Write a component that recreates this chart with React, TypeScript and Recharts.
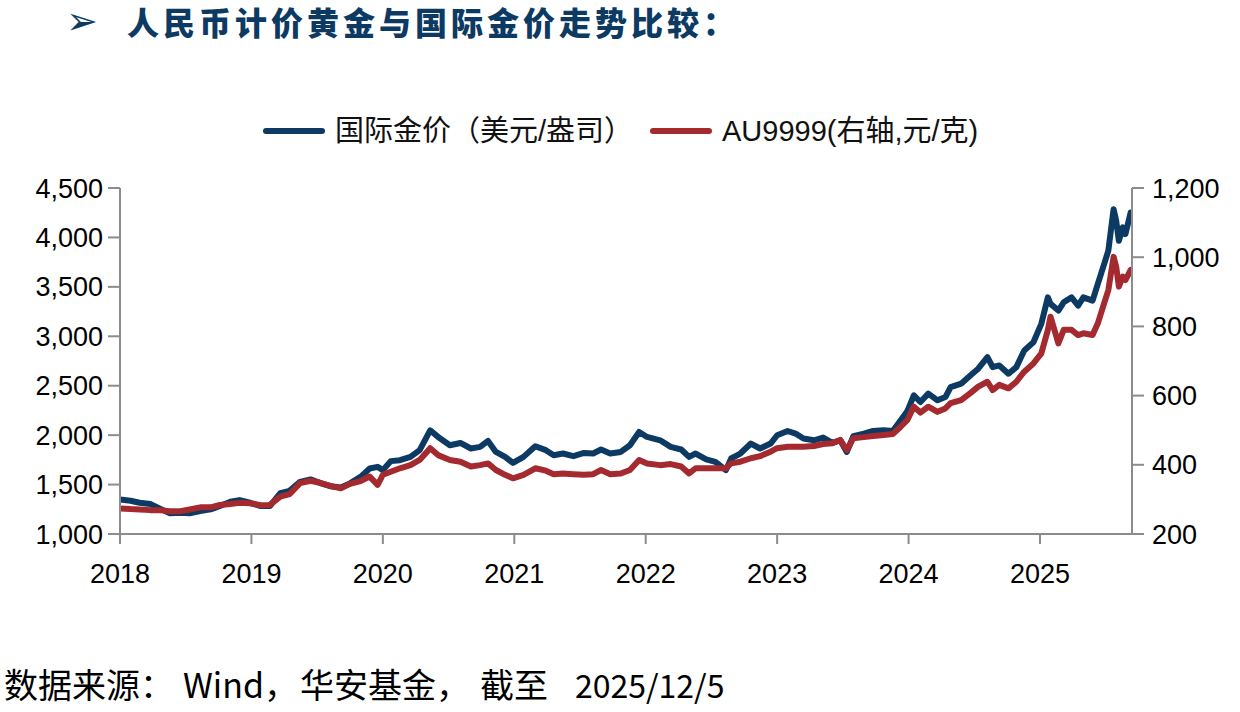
import React from 'react';
import { LineChart, Line, XAxis, YAxis, Legend } from 'recharts';

// Trading-date positions (fractional years)
const dates = [
  2018.0, 2018.08, 2018.15, 2018.23, 2018.3, 2018.38, 2018.46, 2018.53, 2018.61, 2018.69,
  2018.76, 2018.84, 2018.91, 2018.99, 2019.07, 2019.14, 2019.22, 2019.29, 2019.37, 2019.45,
  2019.52, 2019.6, 2019.68, 2019.75, 2019.83, 2019.9, 2019.96, 2020.0, 2020.06, 2020.13,
  2020.21, 2020.28, 2020.36, 2020.42, 2020.51, 2020.59, 2020.67, 2020.74, 2020.8, 2020.86,
  2020.93, 2020.99, 2021.07, 2021.16, 2021.24, 2021.3, 2021.37, 2021.45, 2021.53, 2021.6,
  2021.66, 2021.73, 2021.81, 2021.88, 2021.95, 2022.01, 2022.11, 2022.19, 2022.27, 2022.33,
  2022.38, 2022.46, 2022.53, 2022.61, 2022.65, 2022.72, 2022.8, 2022.87, 2022.95, 2023.0,
  2023.08, 2023.14, 2023.2, 2023.28, 2023.35, 2023.42, 2023.48, 2023.53, 2023.58, 2023.66,
  2023.73, 2023.81, 2023.88, 2023.94, 2023.99, 2024.04, 2024.09, 2024.15, 2024.22, 2024.28,
  2024.32, 2024.4, 2024.47, 2024.53, 2024.6, 2024.64, 2024.69, 2024.76, 2024.82, 2024.88,
  2024.95, 2025.01, 2025.06, 2025.08, 2025.14, 2025.18, 2025.24, 2025.29, 2025.33, 2025.4,
  2025.44, 2025.48, 2025.52, 2025.56, 2025.58, 2025.6, 2025.63, 2025.65, 2025.69,
];

// 国际金价 (USD/oz)
const intlGold = [
  1350, 1336, 1316, 1303, 1259, 1209, 1215, 1209, 1232, 1249,
  1283, 1326, 1343, 1316, 1283, 1283, 1414, 1437, 1528, 1552,
  1518, 1484, 1471, 1512, 1578, 1663, 1679, 1646, 1737, 1747,
  1780, 1848, 2049, 1982, 1898, 1921, 1865, 1881, 1941, 1830,
  1780, 1719, 1780, 1888, 1848, 1797, 1814, 1787, 1820, 1814,
  1855, 1814, 1830, 1898, 2032, 1982, 1948, 1881, 1855, 1780,
  1814, 1754, 1730, 1646, 1764, 1814, 1915, 1865, 1915, 1999,
  2042, 2016, 1966, 1948, 1976, 1921, 1948, 1830, 1989, 2016,
  2042, 2049, 2042, 2150, 2241, 2403, 2335, 2420, 2352, 2385,
  2486, 2521, 2604, 2672, 2789, 2688, 2705, 2621, 2688, 2857,
  2940, 3126, 3394, 3328, 3260, 3344, 3394, 3311, 3394, 3361,
  3530, 3697, 3866, 4286, 4168, 3966, 4101, 4034, 4252,
];

// AU9999 (CNY/g, right axis)
const au9999 = [
  274, 272, 271, 269, 269, 266, 266, 271, 277, 277,
  284, 287, 290, 289, 283, 284, 308, 315, 347, 354,
  348, 339, 332, 345, 353, 366, 342, 371, 380, 390,
  399, 414, 448, 428, 414, 409, 395, 399, 404, 385,
  371, 361, 371, 390, 383, 373, 375, 373, 371, 373,
  385, 373, 375, 385, 414, 404, 399, 402, 395, 375,
  390, 390, 390, 390, 404, 409, 419, 425, 438, 448,
  452, 452, 452, 454, 460, 462, 472, 443, 477, 480,
  483, 486, 489, 510, 529, 568, 551, 568, 553, 563,
  578, 587, 607, 626, 640, 616, 631, 621, 640, 669,
  693, 722, 790, 828, 751, 790, 790, 775, 780, 775,
  809, 857, 905, 1001, 972, 915, 944, 934, 963,
];

const yearTicks = [2018, 2019, 2020, 2021, 2022, 2023, 2024, 2025];
const leftTicks = [1000, 1500, 2000, 2500, 3000, 3500, 4000, 4500];
const rightTicks = [200, 400, 600, 800, 1000, 1200];

const seriesNames = {
  intl: '国际金价（美元/盎司）',
  au: 'AU9999(右轴,元/克)',
};

const titleText = '人民币计价黄金与国际金价走势比较：';
const sourceParts = ['数据来源：', 'Wind，', '华安基金，', '截至', '2025/12/5'];

const data = dates.map((d, i) => ({ t: d, intl: intlGold[i], au: au9999[i] }));

const BLUE = '#0C3A63';
const RED = '#A52A2F';
const AXIS = '#8C8C8C';
const FONT = '"Liberation Sans", Arial, "Noto Sans CJK SC", sans-serif';
const CJK = '"Noto Sans CJK SC", sans-serif';

const fmt = (v: number) => v.toLocaleString('en-US');

const LegendContent = () => (
  <div style={{ position: 'relative', height: 40, fontFamily: FONT, fontSize: 29, color: '#111' }}>
    <div style={{ position: 'absolute', left: 263, top: 17, width: 62, height: 6, borderRadius: 3, background: BLUE }} />
    <div style={{ position: 'absolute', left: 335, top: 0, whiteSpace: 'nowrap', lineHeight: '40px' }}>{seriesNames.intl}</div>
    <div style={{ position: 'absolute', left: 650, top: 17, width: 62, height: 6, borderRadius: 3, background: RED }} />
    <div style={{ position: 'absolute', left: 722, top: 0, whiteSpace: 'nowrap', lineHeight: '40px' }}>{seriesNames.au}</div>
  </div>
);

const srcStyle = { position: 'absolute' as const, top: 663, fontSize: 34, color: '#000', fontFamily: CJK, lineHeight: '42px', whiteSpace: 'nowrap' as const };

export default function App() {
  const tickStyle = { fill: '#000', fontSize: 27, fontFamily: FONT };
  return (
    <div style={{ position: 'absolute', left: 0, top: 0, width: 1240, height: 712, background: '#fff' }}>
      <div style={{ position: 'absolute', left: 66, top: 0, fontSize: 38, color: BLUE, fontFamily: '"DejaVu Sans", sans-serif', lineHeight: '42px' }}>➢</div>
      <div style={{ position: 'absolute', left: 127, top: 0, fontSize: 32, fontWeight: 900, color: BLUE, fontFamily: CJK, letterSpacing: 4, lineHeight: '42px', whiteSpace: 'nowrap' }}>{titleText}</div>

      <LineChart width={1240} height={712} data={data} margin={{ top: 148, right: 8, bottom: 138, left: 20 }}>
        <Legend verticalAlign="top" height={40} wrapperStyle={{ position: 'absolute', top: 111, left: 0, width: 1240 }} content={<LegendContent />} />
        <XAxis
          dataKey="t"
          type="number"
          domain={[2018, 2025.7]}
          ticks={yearTicks}
          interval={0}
          height={40}
          stroke={AXIS}
          strokeWidth={2}
          tickSize={10}
          tickMargin={20}
          tick={tickStyle}
          tickFormatter={(v: number) => String(v)}
          allowDataOverflow
        />
        <YAxis
          yAxisId="left"
          orientation="left"
          domain={[1000, 4500]}
          ticks={leftTicks}
          interval={0}
          width={100}
          stroke={AXIS}
          strokeWidth={2}
          tickSize={12}
          tickMargin={5}
          tick={tickStyle}
          tickFormatter={fmt}
        />
        <YAxis
          yAxisId="right"
          orientation="right"
          domain={[200, 1200]}
          ticks={rightTicks}
          interval={0}
          width={100}
          stroke={AXIS}
          strokeWidth={2}
          tickSize={12}
          tickMargin={8}
          tick={tickStyle}
          tickFormatter={fmt}
        />
        <Line yAxisId="left" dataKey="intl" name={seriesNames.intl} type="linear" stroke={BLUE} strokeWidth={6} strokeLinejoin="round" strokeLinecap="round" dot={false} isAnimationActive={false} />
        <Line yAxisId="right" dataKey="au" name={seriesNames.au} type="linear" stroke={RED} strokeWidth={6} strokeLinejoin="round" strokeLinecap="round" dot={false} isAnimationActive={false} />
      </LineChart>

      <div style={{ ...srcStyle, left: 4 }}>{sourceParts[0]}</div>
      <div style={{ ...srcStyle, left: 183 }}>{sourceParts[1]}</div>
      <div style={{ ...srcStyle, left: 300 }}>{sourceParts[2]}</div>
      <div style={{ ...srcStyle, left: 480 }}>{sourceParts[3]}</div>
      <div style={{ ...srcStyle, left: 575, fontSize: 32 }}>{sourceParts[4]}</div>
    </div>
  );
}
